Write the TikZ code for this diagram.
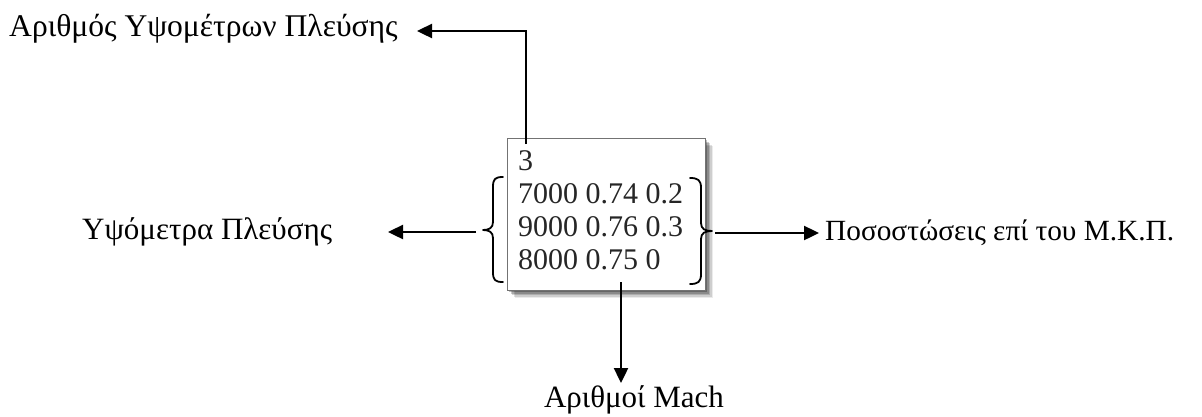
\documentclass[tikz,border=0pt]{standalone}
\usepackage{fontspec}
\setmainfont{Liberation Serif}
\usetikzlibrary{arrows.meta}
\begin{document}
\begin{tikzpicture}[x=1pt,y=-1pt,
  label/.style={inner sep=0pt, font=\fontsize{31}{36}\selectfont},
  entry/.style={inner sep=0pt, anchor=base west, font=\fontsize{30}{33}\selectfont, text=black!85},
  conn/.style={line width=2.4pt, -{Triangle[length=15pt,width=14pt]}},
  bracestyle/.style={line width=1.8pt, line cap=round, line join=round}]
\useasboundingbox (0,0) rectangle (1202,416);

% soft shadow of the input box
\foreach \d/\o in {8/0.08,6.5/0.12,5/0.16,3.5/0.2,2/0.25}{
  \fill[black,opacity=\o] (507+\d,138+\d) rectangle (705+\d,290+\d);
}
% the input file box
\node[draw=black!55, line width=1.4pt, fill=white, minimum width=198pt, minimum height=152pt,
      inner sep=0pt, anchor=north west] (box) at (507,138) {};

% file contents
\node[entry] (l0) at (518,170) {3};
\node[entry] (l1) at (518,203) {7000 0.74 0.2};
\node[entry] (l2) at (518,236) {9000 0.76 0.3};
\node[entry] (l3) at (518,269) {8000 0.75 0};

% braces around the three data lines
\coordinate (lb) at (483,230);
\coordinate (rb) at (712,231);
\draw[bracestyle] (503,177) .. controls (495,177) and (493,179) .. (493,187)
  -- (493,222) .. controls (493,228) and (489,230) .. (lb)
  .. controls (489,230) and (493,232) .. (493,238)
  -- (493,272) .. controls (493,280) and (495,282) .. (503,282);
\draw[bracestyle] (690,178) .. controls (698,178) and (701,180) .. (701,188)
  -- (701,223) .. controls (701,229) and (705,231) .. (rb)
  .. controls (705,231) and (701,233) .. (701,239)
  -- (701,274) .. controls (701,282) and (698,284) .. (690,284);

% labels
\node[label, anchor=base west, font=\fontsize{31.6}{36}\selectfont] (top) at (9,36) {Αριθμός Υψομέτρων Πλεύσης};
\node[label, anchor=base west] (left) at (82,239) {Υψόμετρα Πλεύσης};
\node[label, anchor=base west, font=\fontsize{29.3}{36}\selectfont] (right) at (825,240) {Ποσοστώσεις επί του Μ.Κ.Π.};
\node[label, anchor=base] (bottom) at (634,407) {Αριθμοί Mach};

% connector ends
\coordinate (topstart) at (526,144);
\coordinate (topend) at (417,31);
\coordinate (leftstart) at (476,232);
\coordinate (leftend) at (388,232);
\coordinate (rightstart) at (715,233);
\coordinate (rightend) at (819,233);
\coordinate (bstart) at (621,282);
\coordinate (bend) at (621,383);

% connectors
\draw[conn] (topstart) |- (topend);
\draw[conn] (leftstart) -- (leftend);
\draw[conn] (rightstart) -- (rightend);
\draw[conn] (bstart) -- (bend);
\end{tikzpicture}
\end{document}
